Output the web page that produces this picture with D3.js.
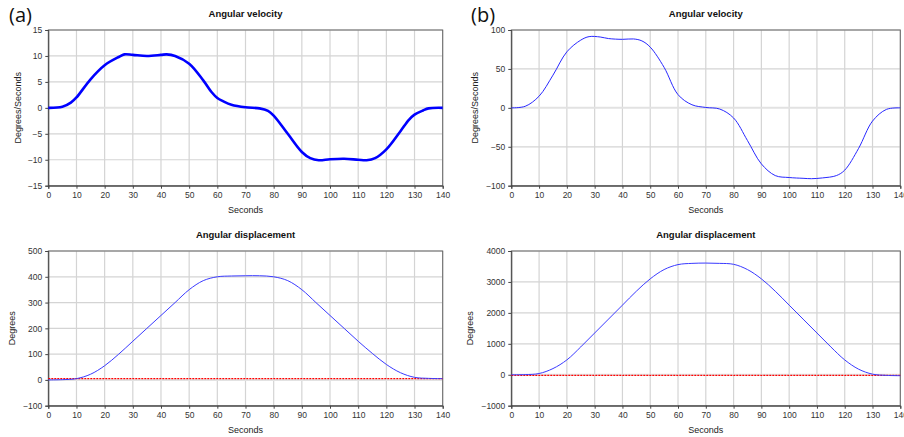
<!doctype html>
<html>
  <head>
    <meta charset="utf-8">
    <title>Angular velocity and displacement</title>
    <style>
      body { margin: 0; background: #fff; }
      svg { display: block; font-family: "Liberation Sans", Arial, sans-serif; }
      .tick text { fill: #333; font-size: 8.5px; }
      .title { font-size: 9.5px; font-weight: bold; fill: #111; }
      .lab { font-size: 9px; fill: #222; }
      .panel-tag { font-family: "Open Sans", "DejaVu Sans", sans-serif; font-size: 20px; fill: #111; }
    </style>
    <script src="https://cdnjs.cloudflare.com/ajax/libs/d3/7.8.5/d3.min.js"></script>
  </head>
  <body>
    <div id="chart"></div>
    <script>
      // sample times (s)
      const velTimeA = [0, 5, 8, 10, 15, 20, 25, 27, 30, 35, 40, 42, 45, 50, 55, 58, 60, 62, 65, 70, 75, 78, 80, 85, 90, 93, 96, 100, 105, 110, 113, 116, 120, 125, 128, 130, 133, 135, 140];
      const velA = [0, 0.2, 1, 2, 5.5, 8.2, 9.8, 10.3, 10.2, 10.0, 10.2, 10.3, 10.0, 8.5, 5.3, 3, 1.9, 1.3, 0.6, 0.1, -0.1, -0.6, -1.5, -5, -8.5, -9.7, -10.1, -9.9, -9.8, -10, -10.1, -9.7, -8, -4.5, -2.3, -1.3, -0.5, -0.1, 0];

      const velTimeB = [0, 5, 10, 15, 20, 25, 28, 32, 35, 40, 44, 47, 50, 55, 60, 65, 70, 75, 80, 85, 90, 95, 100, 105, 108, 112, 117, 120, 125, 130, 135, 140];
      const velB = [0, 2, 15, 42, 72, 87, 91.5, 91, 89, 88, 88.5, 86, 78, 52, 17, 4, 0.5, -1.5, -13, -42, -72, -87, -89.5, -90.5, -91, -90, -87, -80, -52, -17, -2, 0];

      const dispTime = [0, 5, 10, 15, 20, 25, 30, 35, 40, 45, 50, 55, 60, 65, 70, 75, 80, 85, 90, 95, 100, 105, 110, 115, 120, 125, 130, 135, 140];
      const dispA = [0, 1, 5, 22, 55, 100, 150, 200, 250, 300, 350, 385, 400, 403, 404, 404, 400, 385, 350, 300, 250, 200, 150, 103, 60, 28, 10, 6, 5];
      const dispB = [0, 5, 40, 200, 480, 900, 1350, 1800, 2250, 2700, 3100, 3400, 3560, 3600, 3610, 3600, 3570, 3400, 3100, 2700, 2250, 1800, 1350, 900, 480, 180, 20, -20, -30];
      const refA = 5, refB = -20;

      const xTicks = d3.range(0, 141, 10);

      const svg = d3.select('#chart').append('svg')
        .attr('width', 904).attr('height', 437);

      function panel(o) {
        const x = d3.scaleLinear().domain([0, 140]).range([o.left, o.right]);
        const y = d3.scaleLinear().domain(o.yDomain).range([o.bottom, o.top]);
        const g = svg.append('g');

        // grid
        g.selectAll('.vg').data(xTicks.slice(1)).enter().append('line')
          .attr('x1', d => x(d)).attr('x2', d => x(d))
          .attr('y1', o.top).attr('y2', o.bottom)
          .attr('stroke', '#d4d4d4').attr('stroke-width', 1.2);
        g.selectAll('.hg').data(o.yTicks).enter().append('line')
          .attr('x1', o.left).attr('x2', o.right)
          .attr('y1', d => y(d)).attr('y2', d => y(d))
          .attr('stroke', d => d === 0 ? '#e2e2e2' : '#d4d4d4')
          .attr('stroke-width', d => d === 0 ? 2 : 1.2);

        // frame
        g.append('rect')
          .attr('x', o.left).attr('y', o.top)
          .attr('width', o.right - o.left).attr('height', o.bottom - o.top)
          .attr('fill', 'none').attr('stroke', '#666').attr('stroke-width', 1);

        g.append('g').attr('transform', `translate(0,${o.bottom})`)
          .call(d3.axisBottom(x).tickValues(xTicks).tickSize(3).tickPadding(3).tickFormat(d3.format('d')))
          .call(a => a.select('.domain').attr('stroke', '#444'))
          .call(a => a.selectAll('.tick line').attr('stroke', '#444'));
        g.append('g').attr('transform', `translate(${o.left},0)`)
          .call(d3.axisLeft(y).tickValues(o.yTicks).tickSize(3).tickPadding(3).tickFormat(d3.format('d')))
          .call(a => a.select('.domain').attr('stroke', '#444'))
          .call(a => a.selectAll('.tick line').attr('stroke', '#444'));

        if (o.ref !== undefined) {
          g.append('line')
            .attr('x1', x(0)).attr('x2', x(140))
            .attr('y1', y(o.ref)).attr('y2', y(o.ref))
            .attr('stroke', '#ff0000').attr('stroke-width', 1.2)
            .attr('stroke-dasharray', '2,1');
        }

        const line = d3.line()
          .x((d, i) => x(o.t[i])).y(d => y(d))
          .curve(d3.curveCatmullRom.alpha(0.5));
        g.append('path').datum(o.v)
          .attr('d', line).attr('fill', 'none')
          .attr('stroke', o.color).attr('stroke-width', o.width);

        g.append('text').attr('class', 'title')
          .attr('x', (o.left + o.right) / 2).attr('y', o.top - 13)
          .attr('text-anchor', 'middle').text(o.title);
        g.append('text').attr('class', 'lab')
          .attr('x', (o.left + o.right) / 2).attr('y', o.bottom + 27)
          .attr('text-anchor', 'middle').text('Seconds');
        g.append('text').attr('class', 'lab')
          .attr('transform', `translate(${o.ylabX},${(o.top + o.bottom) / 2}) rotate(-90)`)
          .attr('dy', '0.35em')
          .attr('text-anchor', 'middle').text(o.ylab);
      }

      panel({ left: 48.3, right: 442.7, top: 30, bottom: 185.7, yDomain: [-15, 15], yTicks: d3.range(-15, 16, 5),
              t: velTimeA, v: velA, color: '#0000ff', width: 2.6, title: 'Angular velocity', ylab: 'Degrees/Seconds', ylabX: 17.5 });
      panel({ left: 48.3, right: 442.7, top: 251, bottom: 405.7, yDomain: [-100, 500], yTicks: d3.range(-100, 501, 100),
              t: dispTime, v: dispA, ref: refA, color: '#3a3aff', width: 1, title: 'Angular displacement', ylab: 'Degrees', ylabX: 11.7 });
      panel({ left: 511.3, right: 900.3, top: 30, bottom: 185.7, yDomain: [-100, 100], yTicks: d3.range(-100, 101, 50),
              t: velTimeB, v: velB, color: '#2828ff', width: 1, title: 'Angular velocity', ylab: 'Degrees/Seconds', ylabX: 475.3 });
      panel({ left: 511.3, right: 900.3, top: 251, bottom: 405.7, yDomain: [-1000, 4000], yTicks: d3.range(-1000, 4001, 1000),
              t: dispTime, v: dispB, ref: refB, color: '#3a3aff', width: 1, title: 'Angular displacement', ylab: 'Degrees', ylabX: 470.3 });

      svg.append('text').attr('class', 'panel-tag').attr('x', 9).attr('y', 22).text('(a)');
      svg.append('text').attr('class', 'panel-tag').attr('x', 471).attr('y', 22).text('(b)');
    </script>
  </body>
</html>
